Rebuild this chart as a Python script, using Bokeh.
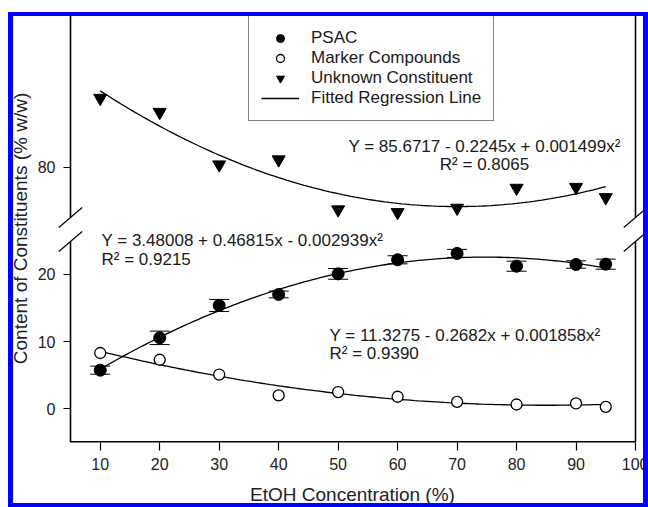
import numpy as np
from bokeh.plotting import figure
from bokeh.models import (Range1d, FixedTicker, Legend, LegendItem, Label,
                          Whisker, TeeHead, ColumnDataSource, GlobalInlineStyleSheet)
from bokeh.embed import file_html
from bokeh.resources import INLINE

# ---------------- data ----------------
ethanol = [10, 20, 30, 40, 50, 60, 70, 80, 90, 95]
psac = [5.75, 10.55, 15.36, 17.0, 20.06, 22.15, 23.1, 21.2, 21.45, 21.5]
psac_err = [0.6, 1.0, 0.9, 0.5, 0.8, 0.6, 0.6, 0.75, 0.55, 0.75]
marker_cmp = [8.3, 7.3, 5.1, 2.0, 2.5, 1.8, 1.04, 0.65, 0.8, 0.3]
unknown = [83.85, 83.07, 80.15, 80.43, 77.65, 77.5, 77.74, 78.85, 78.9, 78.33]

x_ticks = [10, 20, 30, 40, 50, 60, 70, 80, 90, 100]
lower_ticks = [0, 10, 20]
upper_tick = 80

x_title = "EtOH Concentration (%)"
y_title = "Content of Constituents (% w/w)"
series_names = ["PSAC", "Marker Compounds", "Unknown Constituent", "Fitted Regression Line"]
eq_unknown = ["Y = 85.6717 - 0.2245x + 0.001499x\u00b2", "R\u00b2 = 0.8065"]
eq_psac = ["Y = 3.48008 + 0.46815x - 0.002939x\u00b2", "R\u00b2 = 0.9215"]
eq_marker = ["Y = 11.3275 - 0.2682x + 0.001858x\u00b2", "R\u00b2 = 0.9390"]

# ---------------- layout constants (page pixels) ----------------
W, H = 648, 507
AXL, AXR = 70, 635                   # visible axis box left/right (x = 5 .. 100)
FL, FR, FT, FB = 56, 648, 14, 442    # plotting frame edges
XA0, XA1 = 5, 100                    # x at visible axis box edges
SX = (AXR - AXL) / (XA1 - XA0)
X0 = XA0 - (AXL - FL) / SX
X1 = XA1 + (FR - AXR) / SX
LO0, LO1 = -5, 58.6                  # lower segment range (spans frame height)
UP0, UP1 = 64.7, 88.5                # upper segment range (spans frame height)
FONT = "Liberation Sans"
TXT = "#1a1a1a"

def px_x(px):
    return X0 + (px - FL) / SX

def px_y(py):
    return LO0 + (FB - py) / (FB - FT) * (LO1 - LO0)

# blue picture frame drawn over the page
frame_css = GlobalInlineStyleSheet(css="""
body::after { content: ""; position: fixed; left: 8px; top: 12px;
  width: 640px; height: 495px; box-sizing: border-box;
  border-style: solid; border-color: #0000ff; border-width: 4px 5px 4px 5px;
  pointer-events: none; z-index: 9999; }
""")

p = figure(width=W, height=H, output_backend="svg", toolbar_location=None,
           x_range=Range1d(X0, X1), y_range=Range1d(LO0, LO1),
           min_border_left=FL, min_border_right=W - FR,
           min_border_top=FT, min_border_bottom=H - FB,
           background_fill_color="white", border_fill_color="white",
           stylesheets=[frame_css])
p.extra_y_ranges = {"upper": Range1d(UP0, UP1)}
p.grid.visible = False
p.outline_line_color = None

# axes
pos80 = LO0 + (upper_tick - UP0) / (UP1 - UP0) * (LO1 - LO0)
p.xaxis.ticker = FixedTicker(ticks=x_ticks)
p.yaxis.ticker = FixedTicker(ticks=lower_ticks + [pos80])
p.yaxis.major_label_overrides = {pos80: str(upper_tick)}
p.xaxis.axis_label = x_title
p.yaxis.axis_label = y_title
for ax in (p.xaxis, p.yaxis):
    ax.axis_label_text_font = FONT
    ax.axis_label_text_font_size = "19px"
    ax.axis_label_text_font_style = "normal"
    ax.axis_label_text_color = "#222222"
    ax.major_label_text_font = FONT
    ax.major_label_text_font_size = "16px"
    ax.major_label_text_color = "#222222"
    ax.minor_tick_line_color = None
    ax.major_tick_line_color = "black"
    ax.major_tick_line_width = 1.2
    ax.axis_line_color = None
p.xaxis.major_tick_in = 0
p.xaxis.major_tick_out = 8
p.xaxis.major_label_standoff = 7
p.xaxis.axis_label_standoff = 11
# y ticks sit on the visible axis line, which lies inside the frame
p.yaxis.major_tick_in = AXL - FL
p.yaxis.major_tick_out = -(AXL - FL - 7)
p.yaxis.major_label_standoff = 1
p.yaxis.axis_label_standoff = 4

# axis box lines with a break (left and right), bottom line
gap_lo, gap_hi = px_y(241), px_y(217)
dxs = 11.7 / SX
dys = 10.0 / (FB - FT) * (LO1 - LO0)
p.segment(x0=[XA0, XA0, XA1, XA1], y0=[LO0, gap_hi, LO0, gap_hi],
          x1=[XA0, XA0, XA1, XA1], y1=[gap_lo, LO1, gap_lo, LO1],
          line_color="black", line_width=1.6)
p.segment(x0=[XA0], y0=[LO0], x1=[XA1], y1=[LO0], line_color="black", line_width=3)
sl_x = [XA0, XA0, XA1, XA1]
sl_y = [gap_lo, gap_hi, gap_lo, gap_hi]
p.segment(x0=[v - dxs for v in sl_x], y0=[v - dys for v in sl_y],
          x1=[v + dxs for v in sl_x], y1=[v + dys for v in sl_y],
          line_color="black", line_width=1.2)

# fitted regression curves (least squares on the data)
xf = np.linspace(min(ethanol), max(ethanol), 120)
fit_psac = np.polyval(np.polyfit(ethanol, psac, 2), xf)
fit_marker = np.polyval(np.polyfit(ethanol, marker_cmp, 2), xf)
fit_unknown = np.polyval(np.polyfit(ethanol, unknown, 2), xf)

line_u = p.line(xf, fit_unknown, line_color="black", line_width=1.3, y_range_name="upper")
p.line(xf, fit_psac, line_color="black", line_width=1.3)
p.line(xf, fit_marker, line_color="black", line_width=1.3)

# error bars
src_err = ColumnDataSource(dict(
    x=ethanol,
    upper=[v + e for v, e in zip(psac, psac_err)],
    lower=[v - e for v, e in zip(psac, psac_err)]))
p.add_layout(Whisker(source=src_err, base="x", upper="upper", lower="lower",
                     line_color="black", line_width=1,
                     upper_head=TeeHead(size=20, line_color="black", line_width=1),
                     lower_head=TeeHead(size=20, line_color="black", line_width=1)))

r_psac = p.scatter(ethanol, psac, marker="circle", size=12,
                   fill_color="black", line_color="black")
r_marker = p.scatter(ethanol, marker_cmp, marker="circle", size=11,
                     fill_color="white", line_color="black", line_width=1.3)
r_unknown = p.scatter(ethanol, unknown, marker="inverted_triangle", size=13,
                      fill_color="black", line_color="black", y_range_name="upper")

# legend
legend = Legend(items=[LegendItem(label=series_names[0], renderers=[r_psac]),
                       LegendItem(label=series_names[1], renderers=[r_marker]),
                       LegendItem(label=series_names[2], renderers=[r_unknown]),
                       LegendItem(label=series_names[3], renderers=[line_u])],
                location=(248 - FL, FB - 121), orientation="vertical",
                glyph_width=38, glyph_height=20, label_height=20, spacing=0,
                padding=12, label_standoff=12, margin=0,
                label_text_font=FONT, label_text_font_size="17px", label_text_color=TXT,
                border_line_color="black", border_line_width=1,
                background_fill_color="white", background_fill_alpha=1)
p.add_layout(legend, "center")

# equation labels
def add_text(px, py, text, align):
    p.add_layout(Label(x=px_x(px), y=px_y(py), text=text, text_align=align,
                       text_baseline="middle", text_font=FONT,
                       text_font_size="17px", text_color=TXT))

add_text(484, 146, eq_unknown[0], "center")
add_text(484, 164, eq_unknown[1], "center")
add_text(101, 240, eq_psac[0], "left")
add_text(101, 259, eq_psac[1], "left")
add_text(329, 335, eq_marker[0], "left")
add_text(329, 353, eq_marker[1], "left")

open("out.html", "w").write(file_html(p, INLINE))
